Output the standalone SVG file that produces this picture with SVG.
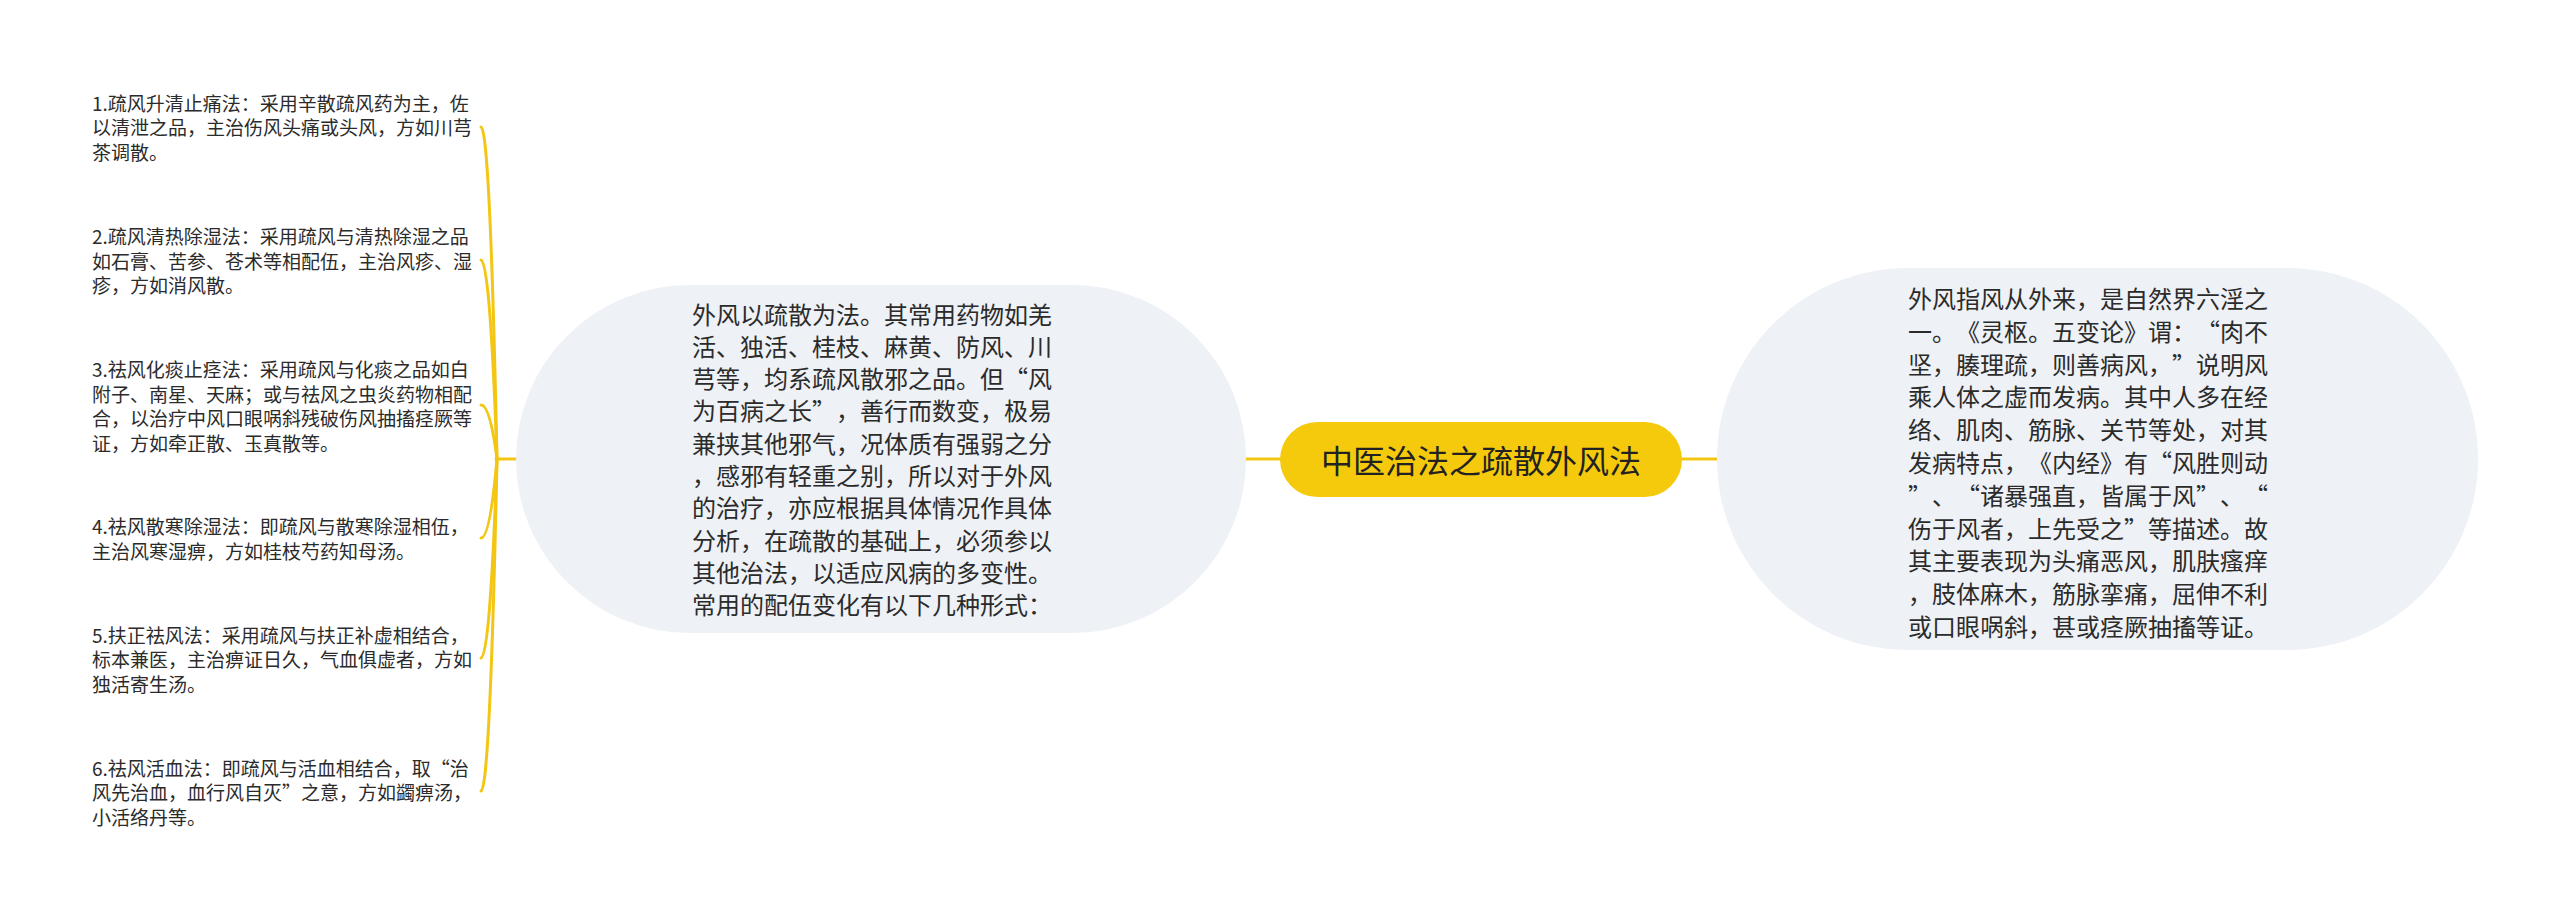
<svg xmlns="http://www.w3.org/2000/svg" width="2560" height="919" viewBox="0 0 2560 919">
<style>
  .bg { fill: #ffffff; }
  .bubble { fill: #eef1f5; }
  .pill { fill: #f5ca0c; }
  .conn { fill: none; stroke: #f3c614; stroke-width: 3; stroke-linecap: round; }
  text { font-family: "Noto Sans CJK SC", "Noto Sans", sans-serif; fill: #2b2b2b; text-spacing-trim: space-all; }
  .item { font-size: 19px; }
  .body { font-size: 24px; font-variant-east-asian: full-width; }
  .fw { font-variant-east-asian: full-width; }
  .title { font-size: 32px; fill: #222222; }
</style>
<rect class="bg" x="0" y="0" width="2560" height="919"/>

<g id="connectors">
  <line class="conn" x1="1280" y1="459" x2="1246" y2="459"/>
  <line class="conn" x1="1682" y1="459" x2="1717" y2="459"/>
  <line class="conn" x1="516" y1="459" x2="496" y2="459"/>
  <path class="conn" d="M 497 459 Q 490 127 481 127"/>
  <path class="conn" d="M 497 459 Q 490 260 481 260"/>
  <path class="conn" d="M 497 459 Q 490 405 481 405"/>
  <path class="conn" d="M 497 459 Q 490 538 481 538"/>
  <path class="conn" d="M 497 459 Q 490 658 481 658"/>
  <path class="conn" d="M 497 459 Q 490 791 481 791"/>
</g>

<g id="node-center">
  <rect class="pill" x="1280" y="422" width="402" height="75" rx="37.5" ry="37.5"/>
  <text class="title" x="1481" y="473" text-anchor="middle">中医治法之疏散外风法</text>
</g>

<g id="node-right">
  <rect class="bubble" x="1717" y="268" width="761" height="382" rx="191" ry="191"/>
  <text class="body">
    <tspan x="1908" y="308">外风指风从外来，是自然界六淫之</tspan>
    <tspan x="1908" y="340.8">一。《灵枢。五变论》谓：“肉不</tspan>
    <tspan x="1908" y="373.6">坚，腠理疏，则善病风，”说明风</tspan>
    <tspan x="1908" y="406.4">乘人体之虚而发病。其中人多在经</tspan>
    <tspan x="1908" y="439.2">络、肌肉、筋脉、关节等处，对其</tspan>
    <tspan x="1908" y="472">发病特点，《内经》有“风胜则动</tspan>
    <tspan x="1908" y="504.8">”、“诸暴强直，皆属于风”、“</tspan>
    <tspan x="1908" y="537.6">伤于风者，上先受之”等描述。故</tspan>
    <tspan x="1908" y="570.4">其主要表现为头痛恶风，肌肤瘙痒</tspan>
    <tspan x="1908" y="603.2">，肢体麻木，筋脉挛痛，屈伸不利</tspan>
    <tspan x="1908" y="636">或口眼㖞斜，甚或痉厥抽搐等证。</tspan>
  </text>
</g>

<g id="node-left">
  <rect class="bubble" x="516" y="285" width="730" height="348" rx="174" ry="174"/>
  <text class="body">
    <tspan x="692" y="323.5">外风以疏散为法。其常用药物如羌</tspan>
    <tspan x="692" y="355.8">活、独活、桂枝、麻黄、防风、川</tspan>
    <tspan x="692" y="388.1">芎等，均系疏风散邪之品。但“风</tspan>
    <tspan x="692" y="420.4">为百病之长”，善行而数变，极易</tspan>
    <tspan x="692" y="452.7">兼挟其他邪气，况体质有强弱之分</tspan>
    <tspan x="692" y="485">，感邪有轻重之别，所以对于外风</tspan>
    <tspan x="692" y="517.3">的治疗，亦应根据具体情况作具体</tspan>
    <tspan x="692" y="549.6">分析，在疏散的基础上，必须参以</tspan>
    <tspan x="692" y="581.9">其他治法，以适应风病的多变性。</tspan>
    <tspan x="692" y="614.2">常用的配伍变化有以下几种形式：</tspan>
  </text>
</g>

<g id="node-item1">
  <text class="item">
    <tspan x="92" y="110.7">1.疏风升清止痛法：采用辛散疏风药为主，佐</tspan>
    <tspan x="92" y="135.2">以清泄之品，主治伤风头痛或头风，方如川芎</tspan>
    <tspan x="92" y="159.7">茶调散。</tspan>
  </text>
</g>
<g id="node-item2">
  <text class="item">
    <tspan x="92" y="244.2">2.疏风清热除湿法：采用疏风与清热除湿之品</tspan>
    <tspan x="92" y="268.7">如石膏、苦参、苍术等相配伍，主治风疹、湿</tspan>
    <tspan x="92" y="293.2">疹，方如消风散。</tspan>
  </text>
</g>
<g id="node-item3">
  <text class="item">
    <tspan x="92" y="377.2">3.祛风化痰止痉法：采用疏风与化痰之品如白</tspan>
    <tspan x="92" y="401.7">附子、南星、天麻；或与祛风之虫炎药物相配</tspan>
    <tspan x="92" y="426.2">合，以治疗中风口眼㖞斜残破伤风抽搐痉厥等</tspan>
    <tspan x="92" y="450.7">证，方如牵正散、玉真散等。</tspan>
  </text>
</g>
<g id="node-item4">
  <text class="item">
    <tspan x="92" y="534.2">4.祛风散寒除湿法：即疏风与散寒除湿相伍，</tspan>
    <tspan x="92" y="558.7">主治风寒湿痹，方如桂枝芍药知母汤。</tspan>
  </text>
</g>
<g id="node-item5">
  <text class="item">
    <tspan x="92" y="642.7">5.扶正祛风法：采用疏风与扶正补虚相结合，</tspan>
    <tspan x="92" y="667.2">标本兼医，主治痹证日久，气血俱虚者，方如</tspan>
    <tspan x="92" y="691.7">独活寄生汤。</tspan>
  </text>
</g>
<g id="node-item6">
  <text class="item">
    <tspan x="92" y="775.7">6.祛风活血法：即疏风与活血相结合，取<tspan class="fw">“</tspan>治</tspan>
    <tspan x="92" y="800.2">风先治血，血行风自灭<tspan class="fw">”</tspan>之意，方如蠲痹汤，</tspan>
    <tspan x="92" y="824.7">小活络丹等。</tspan>
  </text>
</g>
</svg>
